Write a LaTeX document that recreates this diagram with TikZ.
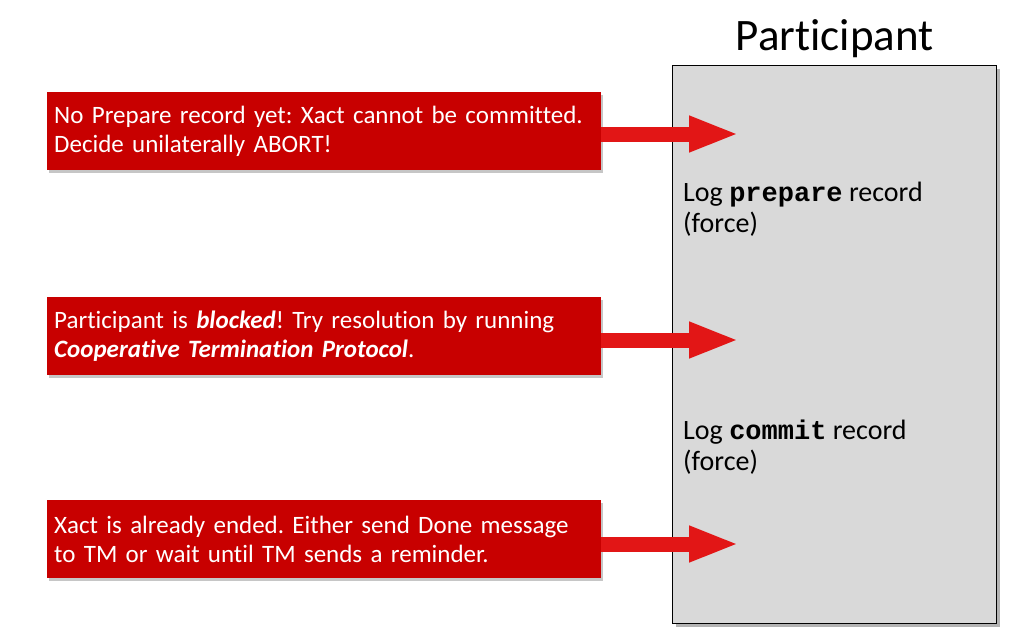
\documentclass[tikz,border=0pt]{standalone}
\usepackage{fontspec}
\setmainfont{Carlito}[Ligatures=CommonOff]
\setmonofont{Liberation Mono}
\usetikzlibrary{arrows.meta,shadows,positioning}
\definecolor{boxred}{RGB}{200,0,0}
\definecolor{arrowred}{RGB}{226,22,22}
\definecolor{partgray}{RGB}{217,217,217}
\tikzset{
  note/.style={fill=boxred, text=white, anchor=north west, minimum width=554pt,
    minimum height=78pt, text width=540pt, align=left, inner xsep=7pt, inner ysep=2pt,
    font=\fontsize{25}{28.5}\selectfont,
    drop shadow={shadow xshift=2pt, shadow yshift=-3pt, opacity=0.45}},
  fat arrow/.style={line width=15pt, draw=arrowred, -{Triangle[length=50pt,width=33pt]}},
  logtext/.style={anchor=north west, align=left, inner sep=0pt, font=\fontsize{28}{31}\selectfont},
}
\newcommand{\cmd}[1]{{\fontsize{27}{31}\selectfont\ttfamily\bfseries #1}}
\begin{document}
\frenchspacing
\begin{tikzpicture}[x=1pt,y=-1pt]
  \useasboundingbox (0,0) rectangle (1009,633);
  % participant
  \node (part) [draw=black, line width=1.2pt, fill=partgray, anchor=north west,
    minimum width=324pt, minimum height=558pt,
    drop shadow={shadow xshift=3pt, shadow yshift=-3pt, opacity=0.6}] at (672,65) {};
  \node (title) [anchor=base, inner sep=0pt, font=\fontsize{45}{50}\selectfont] at ([yshift=15pt]part.north) {Participant};
  \node (logp) [logtext] at (683,182) {Log \cmd{prepare} record\\(force)};
  \node (logc) [logtext] at (683,420) {Log \cmd{commit} record\\(force)};
  % notes
  \node (n1) [note] at (47,92) {No Prepare record yet: Xact cannot be committed.\\Decide unilaterally ABORT!};
  \node (n2) [note] at (47,297) {Participant is \textbf{\textit{blocked}}! Try resolution by running\\\textbf{\textit{Cooperative Termination Protocol}}.};
  \node (n3) [note] at (47,500) {Xact is already ended. Either send Done message\\to TM or wait until TM sends a reminder.};
  \coordinate (t1) at (739,134);
  \coordinate (t2) at (739,340);
  \coordinate (t3) at (739,544);
  \draw[fat arrow] (n1.east |- t1) -- (t1);
  \draw[fat arrow] (n2.east |- t2) -- (t2);
  \draw[fat arrow] (n3.east |- t3) -- (t3);
\end{tikzpicture}
\end{document}
